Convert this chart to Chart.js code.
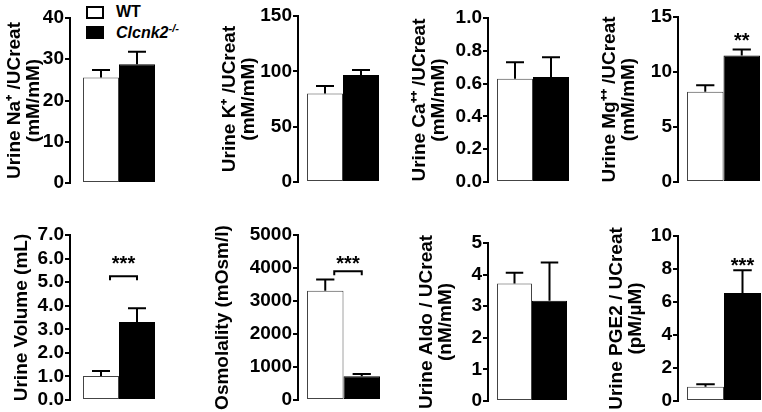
<!DOCTYPE html>
<html>
<head>
<meta charset="utf-8">
<script src="https://cdn.jsdelivr.net/npm/chart.js@4/dist/chart.umd.min.js"></script>
<style>
  html, body { margin: 0; padding: 0; background: #fff; }
  body { width: 762px; height: 412px; position: relative; overflow: hidden; font-family: "Liberation Sans", Arial, sans-serif; }
  .panel { position: absolute; }
  .legend { position: absolute; left: 86px; top: 2px; font-weight: bold; font-size: 16px; color: #000; }
  .legend .row { display: flex; align-items: center; height: 20px; }
  .legend .box { width: 14px; height: 9px; border: 2px solid #000; margin-right: 12px; }
  .legend sup { font-size: 11px; }
</style>
</head>
<body>
<div class="legend">
  <div class="row"><span class="box" style="background:#fff"></span>WT</div>
  <div class="row"><span class="box" style="background:#000"></span><i>Clcnk2<sup>-/-</sup></i></div>
</div>

<script>
// groupes et valeurs
const groups = ['WT', 'Clcnk2-/-'];
const axisTitles = [
  ['Urine Na⁺ /UCreat', '(mM/mM)'],
  ['Urine K⁺ /UCreat', '(mM/mM)'],
  ['Urine Ca⁺⁺ /UCreat', '(mM/mM)'],
  ['Urine Mg⁺⁺ /UCreat', '(mM/mM)'],
  'Urine Volume (mL)',
  'Osmolality (mOsm/l)',
  ['Urine Aldo / UCreat', '(nM/mM)'],
  ['Urine PGE2 / UCreat', '(pM/µM)']
];
const wtMeans = [25.6, 80, 0.63, 8.2, 1.02, 3310, 3.72, 0.87];
const wtSem   = [1.8, 6.7, 0.10, 0.6, 0.21, 345, 0.34, 0.14];
const koMeans = [28.8, 96.7, 0.64, 11.5, 3.31, 720, 3.17, 6.55];
const koSem   = [3.0, 4.5, 0.12, 0.55, 0.58, 70, 1.21, 1.37];
const yMax    = [40, 150, 1.0, 15, 7, 5000, 5, 10];
const yStep   = [10, 50, 0.2, 5, 1, 1000, 1, 2];
const yDecimals = [0, 0, 1, 0, 1, 0, 0, 0];
const stars   = ['', '', '', '**', '***', '***', '', '***'];

// position des panneaux (axe y, haut, zero, largeur axe, decalage barres, largeur barres)
const layout = [
  { axisX: 70,  top: 18,  zero: 183, w: 64, gap: 13, bars: 72 },
  { axisX: 298, top: 16,  zero: 182, w: 77, gap: 9,  bars: 72 },
  { axisX: 488, top: 18,  zero: 182, w: 77, gap: 9,  bars: 72 },
  { axisX: 678, top: 17,  zero: 182, w: 77, gap: 9,  bars: 73 },
  { axisX: 70,  top: 235, zero: 400, w: 57, gap: 13, bars: 72 },
  { axisX: 298, top: 235, zero: 400, w: 84, gap: 9,  bars: 73 },
  { axisX: 488, top: 243, zero: 401, w: 70, gap: 9,  bars: 70 },
  { axisX: 678, top: 236, zero: 401, w: 70, gap: 9,  bars: 74 }
];
// niveau des etoiles / crochet (en unites de l'axe)
const starLevel    = [null, null, null, 13.1, 5.9, 4240, null, 8.4];
const bracketLevel = [null, null, null, null, 5.25, 3900, null, null];

const PAD = 12;
const FONT = '"Liberation Sans", Arial, sans-serif';

const errorBars = {
  id: 'errorBars',
  afterDatasetsDraw(chart, args, opts) {
    const ctx = chart.ctx;
    const y = chart.scales.y;
    ctx.save();
    ctx.strokeStyle = '#000';
    ctx.lineWidth = 2;
    chart.data.datasets.forEach((ds, i) => {
      const meta = chart.getDatasetMeta(i);
      meta.data.forEach((bar, j) => {
        const v = ds.data[j];
        const top = y.getPixelForValue(v + ds.sem[j]);
        const half = bar.width / 4;
        ctx.beginPath();
        ctx.moveTo(bar.x, y.getPixelForValue(v));
        ctx.lineTo(bar.x, top);
        ctx.moveTo(bar.x - half, top);
        ctx.lineTo(bar.x + half, top);
        ctx.stroke();
      });
    });
    // crochet + etoiles
    const p = opts.panel;
    const b0 = chart.getDatasetMeta(0).data[0];
    const b1 = chart.getDatasetMeta(1).data[0];
    if (bracketLevel[p] != null) {
      const by = y.getPixelForValue(bracketLevel[p]);
      ctx.beginPath();
      ctx.moveTo(b0.x + 9, by + 4);
      ctx.lineTo(b0.x + 9, by);
      ctx.lineTo(b1.x, by);
      ctx.lineTo(b1.x, by + 4);
      ctx.stroke();
    }
    if (stars[p]) {
      const sx = bracketLevel[p] != null ? (b0.x + 9 + b1.x) / 2 : b1.x;
      ctx.fillStyle = '#000';
      ctx.font = 'bold 20px ' + FONT;
      ctx.textAlign = 'center';
      ctx.textBaseline = 'middle';
      ctx.fillText(stars[p], sx, y.getPixelForValue(starLevel[p]) + 4);
    }
    ctx.restore();
  }
};

layout.forEach((L, p) => {
  const areaW = 2 * L.gap + L.bars;
  const div = document.createElement('div');
  div.className = 'panel';
  div.style.left = (L.axisX - L.w) + 'px';
  div.style.top = (L.top - PAD) + 'px';
  const canvas = document.createElement('canvas');
  canvas.width = L.w + areaW;
  canvas.height = (L.zero - L.top) + 2 * PAD;
  div.appendChild(canvas);
  document.body.appendChild(div);

  new Chart(canvas.getContext('2d'), {
    type: 'bar',
    data: {
      labels: [''],
      datasets: [
        { label: groups[0], data: [wtMeans[p]], sem: [wtSem[p]], backgroundColor: '#fff', borderColor: '#444', borderWidth: 1, borderSkipped: false },
        { label: groups[1], data: [koMeans[p]], sem: [koSem[p]], backgroundColor: '#000', borderColor: '#000', borderWidth: 1, borderSkipped: false }
      ]
    },
    options: {
      responsive: false,
      animation: false,
      devicePixelRatio: 1,
      layout: { padding: { top: PAD, bottom: PAD, left: 0, right: 0 } },
      plugins: { legend: { display: false }, tooltip: { enabled: false }, errorBars: { panel: p } },
      datasets: { bar: { barPercentage: 1, categoryPercentage: L.bars / areaW } },
      scales: {
        x: { display: false },
        y: {
          min: 0,
          max: yMax[p],
          afterFit(scale) { scale.width = L.w; },
          border: { display: true, color: '#000', width: 2 },
          grid: { drawOnChartArea: false, color: '#000', tickLength: 5, lineWidth: 2 },
          ticks: {
            stepSize: yStep[p],
            autoSkip: false,
            padding: 1,
            color: '#000',
            font: { family: FONT, size: 19, weight: 'bold', lineHeight: 1.0 },
            callback: v => Number(v).toFixed(yDecimals[p])
          },
          title: {
            display: true,
            text: axisTitles[p],
            color: '#000',
            padding: 0,
            font: { family: FONT, size: 19, weight: 'bold', lineHeight: 0.97 }
          }
        }
      }
    },
    plugins: [errorBars]
  });
});
</script>
</body>
</html>
